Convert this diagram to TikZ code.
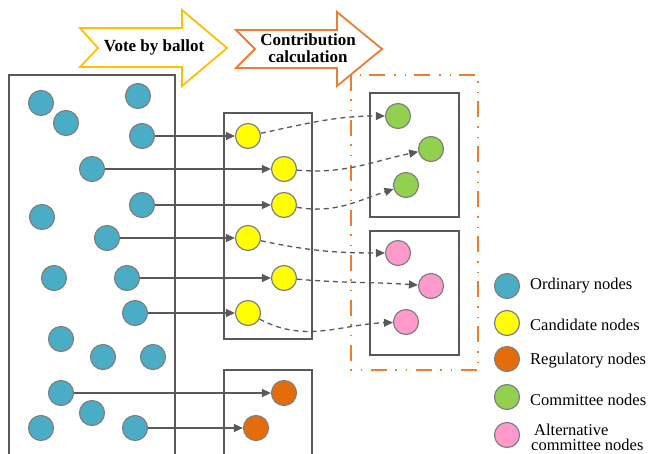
\documentclass[tikz,border=0pt]{standalone}
\usepackage{fontspec}
\setmainfont{Liberation Serif}
\usetikzlibrary{arrows.meta}

\definecolor{ordblue}{RGB}{75,172,198}
\definecolor{candyellow}{RGB}{255,255,0}
\definecolor{regorange}{RGB}{228,108,10}
\definecolor{comgreen}{RGB}{146,208,80}
\definecolor{altpink}{RGB}{255,153,204}
\definecolor{boxgray}{RGB}{89,89,89}
\definecolor{ringgray}{RGB}{128,128,128}
\definecolor{gold}{RGB}{255,192,0}
\definecolor{flowor}{RGB}{237,125,49}

\begin{document}
\begin{tikzpicture}[x=1pt,y=-1pt,
    peer/.style={circle,draw=ringgray,line width=1.2pt,minimum size=25pt,inner sep=0pt},
    ordinary/.style={peer,fill=ordblue},
    candidate/.style={peer,fill=candyellow},
    regulatory/.style={peer,fill=regorange},
    committee/.style={peer,fill=comgreen},
    alternative/.style={peer,fill=altpink},
    group/.style={draw=boxgray,line width=1.8pt},
    vote/.style={draw=boxgray,line width=1.3pt,-{Triangle[length=9pt,width=8pt]}},
    select/.style={draw=boxgray,line width=1.3pt,dash pattern=on 5pt off 4pt,-{Triangle[length=9pt,width=8pt]}},
    legend/.style={anchor=west,font=\fontsize{16.5}{15}\selectfont,inner sep=0pt},
    stage/.style={font=\fontsize{17}{17}\selectfont\bfseries,align=center,inner sep=0pt}]
    \clip (0,0) rectangle (653,453);

    % stage arrows
    \draw [gold,line width=1.8pt,line join=miter] (80,28) -- (182,28) -- (182,10) -- (227,48) -- (182,86) -- (182,67) -- (80,67) -- (98,48) -- cycle;
    \node [stage] (Vote) at (154,47) {Vote by ballot};
    \draw [flowor,line width=1.8pt,line join=miter] (236,30) -- (337,30) -- (337,12) -- (382,49) -- (337,86) -- (337,68) -- (236,68) -- (255,49) -- cycle;
    \node [stage] (Contrib) at (308,48) {Contribution\\calculation};

    % boxes
    \draw [group] (9,75) rectangle (175,470);
    \draw [group] (224,113) rectangle (312,339);
    \draw [group] (224,370) rectangle (312,470);
    \draw [group] (370,93) rectangle (459,217);
    \draw [group] (370,231) rectangle (459,355);
    \draw [flowor,line width=1.8pt,dash pattern=on 16pt off 8pt on 1.5pt off 9pt on 1.5pt off 9pt] (351,75) rectangle (478,370);

    % ordinary nodes
    \node [ordinary] (o1) at (41,103) {};
    \node [ordinary] (o2) at (138,96) {};
    \node [ordinary] (o3) at (66,123) {};
    \node [ordinary] (o4) at (142,136) {};
    \node [ordinary] (o5) at (92,169) {};
    \node [ordinary] (o6) at (142,205) {};
    \node [ordinary] (o7) at (42,217) {};
    \node [ordinary] (o8) at (107,238) {};
    \node [ordinary] (o9) at (54,278) {};
    \node [ordinary] (o10) at (127,278) {};
    \node [ordinary] (o11) at (135,313) {};
    \node [ordinary] (o12) at (61,339) {};
    \node [ordinary] (o13) at (103,357) {};
    \node [ordinary] (o14) at (153,357) {};
    \node [ordinary] (o15) at (61,393) {};
    \node [ordinary] (o16) at (92,413) {};
    \node [ordinary] (o17) at (41,428) {};
    \node [ordinary] (o18) at (135,428) {};

    % candidate nodes
    \node [candidate] (c1) at (248,136) {};
    \node [candidate] (c2) at (284,169) {};
    \node [candidate] (c3) at (284,205) {};
    \node [candidate] (c4) at (248,238) {};
    \node [candidate] (c5) at (284,278) {};
    \node [candidate] (c6) at (248,313) {};

    % regulatory nodes
    \node [regulatory] (r1) at (284,393) {};
    \node [regulatory] (r2) at (256,428) {};

    % committee and alternative nodes
    \node [committee] (g1) at (398,116) {};
    \node [committee] (g2) at (431,149) {};
    \node [committee] (g3) at (406,185) {};
    \node [alternative] (p1) at (398,253) {};
    \node [alternative] (p2) at (431,286) {};
    \node [alternative] (p3) at (406,322) {};

    \draw [vote] (o4) -- (c1);
    \draw [vote] (o5) -- (c2);
    \draw [vote] (o6) -- (c3);
    \draw [vote] (o8) -- (c4);
    \draw [vote] (o10) -- (c5);
    \draw [vote] (o11) -- (c6);
    \draw [vote] (o15) -- (r1);
    \draw [vote] (o18) -- (r2);

    \draw [select] (c1) to[out=12,in=180] (g1);
    \draw [select] (c2) to[out=-5,in=192] (g2);
    \draw [select] (c3) to[out=-10,in=198] (g3);
    \draw [select] (c4) to[out=-12,in=180] (p1);
    \draw [select] (c5) to[out=-5,in=176] (p2);
    \draw [select] (c6) to[out=-28,in=182] (p3);

    % legend
    \node [ordinary] (k1) at (507,286) {};
    \node [legend] (t1) at (530,286) {Ordinary nodes};
    \node [candidate] (k2) at (507,323) {};
    \node [legend] (t2) at (530,325) {Candidate nodes};
    \node [regulatory] (k3) at (507,359) {};
    \node [legend] (t3) at (530,361) {Regulatory nodes};
    \node [committee] (k4) at (507,397) {};
    \node [legend] (t4) at (530,400) {Committee nodes};
    \node [alternative] (k5) at (507,435) {};
    \node [legend,align=left] (t5) at (531,437) {\hspace{3pt}Alternative\\committee nodes};
\end{tikzpicture}
\end{document}
